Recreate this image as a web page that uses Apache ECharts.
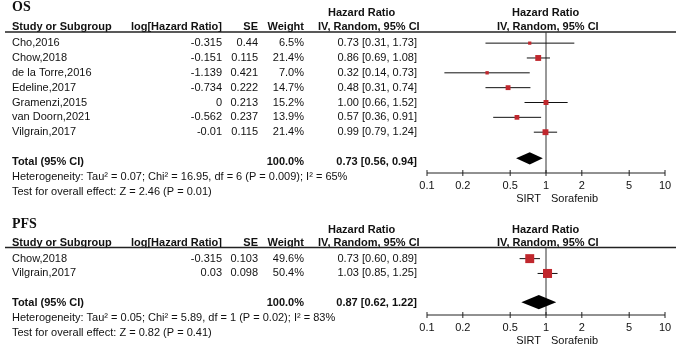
<!DOCTYPE html>
<html>
<head>
<meta charset="utf-8">
<script src="https://cdn.jsdelivr.net/npm/echarts@6/dist/echarts.min.js"></script>
<style>
html,body{margin:0;padding:0;background:#fff;}
#chart{width:676px;height:346px;}
</style>
</head>
<body>
<div id="chart"></div>
<script>
// ---------------- DATA ----------------
const osStudies = ['Cho,2016','Chow,2018','de la Torre,2016','Edeline,2017','Gramenzi,2015','van Doorn,2021','Vilgrain,2017'];
const osLogHR = [-0.315,-0.151,-1.139,-0.734,0,-0.562,-0.01];
const osSE = [0.44,0.115,0.421,0.222,0.213,0.237,0.115];
const osWeight = [6.5,21.4,7.0,14.7,15.2,13.9,21.4];
const osHR = [0.73,0.86,0.32,0.48,1.00,0.57,0.99];
const osLo = [0.31,0.69,0.14,0.31,0.66,0.36,0.79];
const osHi = [1.73,1.08,0.73,0.74,1.52,0.91,1.24];
const osTotal = [0.73,0.56,0.94];
const osHet = 'Heterogeneity: Tau² = 0.07; Chi² = 16.95, df = 6 (P = 0.009); I² = 65%';
const osTest = 'Test for overall effect: Z = 2.46 (P = 0.01)';

const pfsStudies = ['Chow,2018','Vilgrain,2017'];
const pfsLogHR = [-0.315,0.03];
const pfsSE = [0.103,0.098];
const pfsWeight = [49.6,50.4];
const pfsHR = [0.73,1.03];
const pfsLo = [0.60,0.85];
const pfsHi = [0.89,1.25];
const pfsTotal = [0.87,0.62,1.22];
const pfsHet = 'Heterogeneity: Tau² = 0.05; Chi² = 5.89, df = 1 (P = 0.02); I² = 83%';
const pfsTest = 'Test for overall effect: Z = 0.82 (P = 0.41)';

const tickValues = [0.1,0.2,0.5,1,2,5,10];
const favoursLeft = 'SIRT';
const favoursRight = 'Sorafenib';

// ---------------- STYLE ----------------
const FONT = '"Liberation Sans", Arial, sans-serif';
const RED = '#c0272d';
const INK = '#111';

function fmt(v){ return v.toFixed(2); }
function ci(h,l,u){ return fmt(h)+' ['+fmt(l)+', '+fmt(u)+']'; }

function buildLines(title, hdr, studies, logHR, se, weight, hr, lo, hi, total, het, test){
  const n = studies.length;
  const lines = [];
  lines.push({row:hdr[0], cells:[{t:title, x:12, a:'left', serif:true}]});
  lines.push({row:hdr[1], cells:[
    {t:'Hazard Ratio', x:328, a:'left', b:true},
    {t:'Hazard Ratio', x:512, a:'left', b:true}]});
  lines.push({row:hdr[2], cells:[
    {t:'Study or Subgroup', x:12, a:'left', b:true},
    {t:'log[Hazard Ratio]', x:222, a:'right', b:true},
    {t:'SE', x:258, a:'right', b:true},
    {t:'Weight', x:304, a:'right', b:true},
    {t:'IV, Random, 95% CI', x:318, a:'left', b:true},
    {t:'IV, Random, 95% CI', x:497, a:'left', b:true}], rule:true});
  for(let i=0;i<n;i++){
    lines.push({row:i, cells:[
      {t:studies[i], x:12, a:'left'},
      {t:String(logHR[i]), x:222, a:'right'},
      {t:String(se[i]), x:258, a:'right'},
      {t:weight[i].toFixed(1)+'%', x:304, a:'right'},
      {t:ci(hr[i],lo[i],hi[i]), x:417, a:'right'}]});
  }
  const tr = n+1;
  lines.push({row:tr, cells:[
    {t:'Total (95% CI)', x:12, a:'left', b:true},
    {t:'100.0%', x:304, a:'right', b:true},
    {t:ci(total[0],total[1],total[2]), x:417, a:'right', b:true}]});
  lines.push({row:tr+1, cells:[{t:het, x:12, a:'left'}]});
  lines.push({row:tr+2, cells:[{t:test, x:12, a:'left'}]});
  return lines;
}

const osLines = buildLines('OS', [-2.43,-2.06,-1.12], osStudies, osLogHR, osSE, osWeight, osHR, osLo, osHi, osTotal, osHet, osTest);
const pfsLines = buildLines('PFS', [-2.33,-1.93,-1.05], pfsStudies, pfsLogHR, pfsSE, pfsWeight, pfsHR, pfsLo, pfsHi, pfsTotal, pfsHet, pfsTest);

function textSeries(gi, lines, topRow, axisRow){
  return {
    type:'custom', xAxisIndex:gi, yAxisIndex:gi, silent:true, clip:false,
    data: lines.map(l => [1, l.row]),
    renderItem: function(params, api){
      const l = lines[params.dataIndex];
      const y = api.coord([1, api.value(1)])[1];
      const ch = l.cells.map(c => ({
        type:'text',
        style:{text:c.t, x:c.x, y:y, fill:INK, align:c.a, verticalAlign:'middle',
          font:(c.serif ? 'bold 14px "Liberation Serif", "Times New Roman", serif' : ((c.b?'bold ':'')+'11px '+FONT))}
      }));
      if(l.rule){
        const ry = api.coord([1, topRow])[1];
        ch.push({type:'line', shape:{x1:5,y1:ry,x2:676,y2:ry}, style:{stroke:'#222', lineWidth:1.3}});
        // reference line at HR = 1
        const p1 = api.coord([1, topRow]);
        const p2 = api.coord([1, axisRow]);
        ch.push({type:'line', shape:{x1:p1[0],y1:p1[1],x2:p2[0],y2:p2[1]}, style:{stroke:'#333', lineWidth:1}});
        // bottom axis line and ticks (crossing the line)
        const a0 = api.coord([tickValues[0], axisRow]);
        const a1 = api.coord([tickValues[tickValues.length-1], axisRow]);
        ch.push({type:'line', shape:{x1:a0[0],y1:a0[1],x2:a1[0],y2:a1[1]}, style:{stroke:'#222', lineWidth:1}});
        tickValues.forEach(v => {
          const t = api.coord([v, axisRow]);
          ch.push({type:'line', shape:{x1:t[0],y1:t[1]-3,x2:t[0],y2:t[1]+3}, style:{stroke:'#222', lineWidth:1}});
        });
        // favours labels
        const fy = p2[1] + 25.8;
        ch.push({type:'text', style:{text:favoursLeft, x:p1[0]-5, y:fy, align:'right', verticalAlign:'middle', fill:INK, font:'11px '+FONT}});
        ch.push({type:'text', style:{text:favoursRight, x:p1[0]+5, y:fy, align:'left', verticalAlign:'middle', fill:INK, font:'11px '+FONT}});
      }
      return {type:'group', children:ch};
    }
  };
}

function studySeries(gi, hr, lo, hi, weight){
  return {
    type:'custom', xAxisIndex:gi, yAxisIndex:gi, silent:true, clip:false,
    encode:{x:0, y:1},
    data: hr.map((h,i) => [h, i, lo[i], hi[i], weight[i]]),
    renderItem: function(params, api){
      const row = api.value(1);
      const p = api.coord([api.value(0), row]);
      const a = api.coord([api.value(2), row]);
      const b = api.coord([api.value(3), row]);
      const s = Math.sqrt(api.value(4))*1.27;
      return {type:'group', children:[
        {type:'line', shape:{x1:a[0],y1:p[1],x2:b[0],y2:p[1]}, style:{stroke:'#111', lineWidth:1}},
        {type:'rect', shape:{x:p[0]-s/2,y:p[1]-s/2,width:s,height:s}, style:{fill:RED}}
      ]};
    }
  };
}

function diamondSeries(gi, total, row, dy, h){
  return {
    type:'custom', xAxisIndex:gi, yAxisIndex:gi, silent:true, clip:false,
    encode:{x:0, y:1},
    data: [[total[0], row, total[1], total[2]]],
    renderItem: function(params, api){
      const r = api.value(1);
      const c = api.coord([api.value(0), r]);
      const l = api.coord([api.value(2), r]);
      const u = api.coord([api.value(3), r]);
      const y = c[1]+dy;
      return {type:'polygon', shape:{points:[[l[0],y],[c[0],y-h],[u[0],y],[c[0],y+h]]}, style:{fill:'#000'}};
    }
  };
}

function xAxis(gi){
  return {gridIndex:gi, type:'log', logBase:10, min:0.1, max:10, position:'bottom',
      axisLine:{show:false},
      axisTick:{show:false},
      axisLabel:{show:true, customValues:tickValues, margin:7, color:INK, fontFamily:FONT, fontSize:11,
        formatter:function(v){ return String(+(+v).toPrecision(3)); }},
      splitLine:{show:false}};
}

const chart = echarts.init(document.getElementById('chart'), null, {renderer:'canvas'});
chart.setOption({
  animation:false,
  backgroundColor:'#fff',
  grid:[
    {left:427, right:11, top:32, height:141},
    {left:427, right:11, top:247.5, height:67.5}
  ],
  xAxis: [xAxis(0), xAxis(1)],
  yAxis:[
    {gridIndex:0, type:'value', inverse:true, min:-0.75, max:8.75, show:false},
    {gridIndex:1, type:'value', inverse:true, min:-0.75, max:3.8, show:false}
  ],
  series:[
    textSeries(0, osLines, -0.75, 8.75),
    studySeries(0, osHR, osLo, osHi, osWeight),
    diamondSeries(0, osTotal, osStudies.length+1, -3.5, 6.2),
    textSeries(1, pfsLines, -0.75, 3.8),
    studySeries(1, pfsHR, pfsLo, pfsHi, pfsWeight),
    diamondSeries(1, pfsTotal, pfsStudies.length+1, -1, 7.2)
  ]
});
</script>
</body>
</html>
